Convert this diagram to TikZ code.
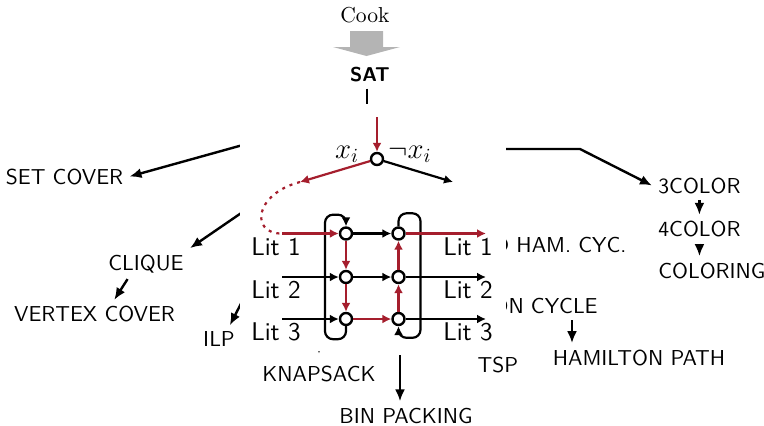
\documentclass[tikz,border=0pt]{standalone}
\usepackage{fontspec}
\usepackage{amsmath,amssymb}
\usepackage{tikz}
\usetikzlibrary{arrows.meta,positioning,calc}
\definecolor{GadgetRed}{RGB}{165,30,45}
\definecolor{CookGray}{RGB}{180,180,180}
\tikzset{
  prob/.style={font=\sffamily\fontsize{10.8}{13}\selectfont,inner sep=3pt,anchor=base},
  redu/.style={line width=1.2pt,-{Latex[length=6pt,width=5pt]}},
  lit/.style={circle,draw,line width=1.2pt,fill=white,minimum size=6pt,inner sep=0pt},
  wire/.style={line width=1.1pt,-{Latex[length=4.5pt,width=4.5pt]}},
  litlabel/.style={font=\sffamily\fontsize{12.8}{15}\selectfont,inner sep=0pt,anchor=base}
}
\begin{document}
\begin{tikzpicture}[x=0.5pt,y=-0.5pt]
\useasboundingbox(0,0)rectangle(764,425);
% reduction tree
\node[font=\fontsize{10.8}{13}\selectfont,inner sep=0pt,anchor=base](cook)at(365,22.7){Cook};
\fill[CookGray](350,31)--(383,31)--(383,47)--(400,47)--(366.5,56)--(333,47)--(350,47)--cycle;
\node[prob,font=\sffamily\bfseries\fontsize{10}{12}\selectfont](sat)at(370,81.7){SAT};
\node[prob](setcover)at(64.5,184){SET COVER};
\node[prob](clique)at(146,270){CLIQUE};
\node[prob](vcover)at(94.5,321.7){VERTEX COVER};
\node[prob](ilp)at(219,346.7){ILP};
\node[prob](knapsack)at(319,381.7){KNAPSACK};
\node[prob](binpack)at(406,423){BIN PACKING};
\node[prob](tsp)at(498,372.7){TSP};
\node[prob,anchor=base east](dhc)at(632.7,252.7){DIRECTED HAM. CYC.};
\node[prob,anchor=base east](hc)at(604,313.3){HAMILTON CYCLE};
\node[prob](hpath)at(639,365){HAMILTON PATH};
\node[prob,anchor=base west](col3)at(652,193){3COLOR};
\node[prob,anchor=base west](col4)at(652,236.7){4COLOR};
\node[prob,anchor=base west](coloring)at(652,278){COLORING};
% free ends under the gadget
\coordinate(satout)at(367,130);
\coordinate(scsrc)at(250,143);
\coordinate(cqsrc)at(250,207);
\coordinate(ilpsrc)at(250,286);
\coordinate(kssrc)at(319,330);
\coordinate(bpsrc)at(400,355);
\coordinate(colsrc)at(470,149);
\coordinate(colbend)at(580,149);
\coordinate(hpx)at(572,0);
\draw[redu](sat.south -| satout)--(satout);
\draw[redu](scsrc)--(setcover.east);
\draw[redu](cqsrc)--(clique.north east);
\draw[redu](clique.220)--(vcover.36);
\draw[redu](ilpsrc)--(ilp.52);
\draw[redu,shorten >=3pt](kssrc)--(knapsack.north);
\draw[redu](bpsrc)--(bpsrc |- binpack.north);
\draw[redu](colsrc)--(colbend)--(col3.west);
\draw[redu](col3.south)--(col4.north);
\draw[redu](col4.south)--(col4.south |- coloring.north);
\draw[redu](hc.south -| hpx)--(hpath.north -| hpx);
% gadget on white
\fill[white](240,104)rectangle(506,351);
\node[lit](v)at(377,159){};
\foreach \n/\x in {L/346,R/398.5}{
  \foreach \r/\y in {1/233.5,2/277,3/319}{
    \node[lit](\n\r)at(\x,\y){};
  }
}
\coordinate(vin)at(377,117);
\coordinate(xl)at(300,182);
\coordinate(xr)at(453,182);
\foreach \r/\y in {1/233.5,2/277,3/319}{
  \coordinate(in\r)at(282,\y);
  \coordinate(out\r)at(486,\y);
}
\node[font=\fontsize{14.4}{17}\selectfont,inner sep=0pt,anchor=base](xlabel)at(347,158){$x_i$};
\node[font=\fontsize{14.4}{17}\selectfont,inner sep=0pt,anchor=base](nxlabel)at(410,158){$\neg x_i$};
\draw[wire,GadgetRed](vin)--(v);
\draw[wire,GadgetRed](v)--(xl);
\draw[wire](v)--(xr);
\draw[GadgetRed,line width=1.1pt,dash pattern=on 1.5pt off 2.5pt](xl).. controls (254,194) and (250,234) ..(in1);
\draw[wire,rounded corners=4pt](L3.south)--++(0,13)-|++(-21,-124.5)-|(L1.north);
\draw[wire,rounded corners=4pt](R1.north)--++(0,-13)-|++(22,124.5)-|(R3.south);
\draw[wire,GadgetRed](in1)--(L1);
\draw[wire](in2)--(L2);
\draw[wire](in3)--(L3);
\draw[wire](L1)--(R1);
\draw[wire](L2)--(R2);
\draw[wire,GadgetRed](L3)--(R3);
\draw[wire,GadgetRed](L1)--(L2);
\draw[wire,GadgetRed](L2)--(L3);
\draw[wire,GadgetRed](R3)--(R2);
\draw[wire,GadgetRed](R2)--(R1);
\draw[wire,GadgetRed](R1)--(out1);
\draw[wire](R2)--(out2);
\draw[wire](R3)--(out3);
\foreach \r/\y in {1/255,2/298,3/340}{
  \node[litlabel](litin\r)at(276,\y){Lit \r};
  \node[litlabel](litout\r)at(468,\y){Lit \r};
}
\end{tikzpicture}
\end{document}
